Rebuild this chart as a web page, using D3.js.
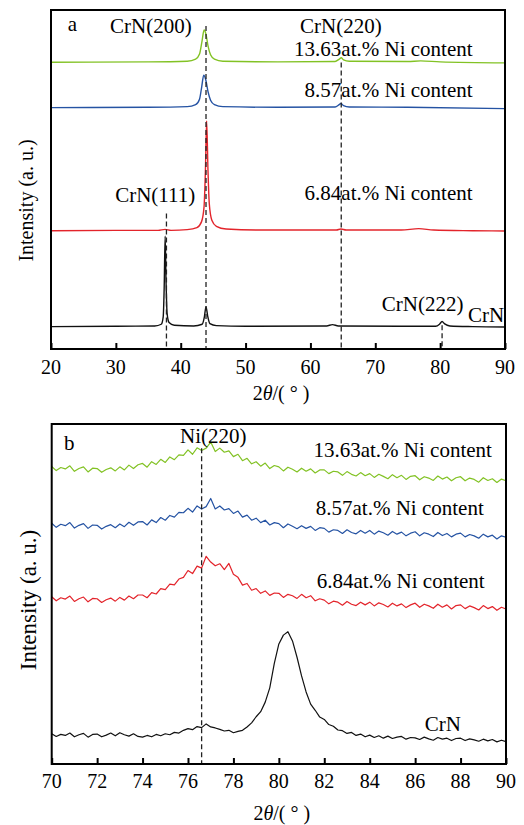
<!DOCTYPE html>
<html>
<head>
<meta charset="utf-8">
<script src="https://cdn.jsdelivr.net/npm/d3@7"></script>
<style>
  body { margin: 0; background: #fff; }
  svg { display: block; }
</style>
</head>
<body>
<div id="chart"></div>
<script>
const width = 524;
const height = 825;
const serifFont = '"Liberation Serif"';

// ---- panel a : 20-90°, traces as [2θ, intensity] points ----
const aTicks = [20, 30, 40, 50, 60, 70, 80, 90];
const aCrN = [[20, 6.6], [30, 6.7], [36, 6.8], [37.0, 7.3], [37.3, 9.5], [37.45, 18], [37.6, 33.3], [37.75, 19], [37.9, 10.5], [38.2, 7.8], [39, 7.0], [42, 6.8], [43.3, 7.3], [43.65, 9.5], [43.9, 12.5], [44.15, 9.8], [44.5, 7.5], [45.5, 6.9], [50, 6.7], [62.5, 6.8], [63.4, 7.2], [64.3, 6.8], [79.3, 6.7], [79.9, 7.3], [80.3, 8.1], [80.7, 7.4], [81.5, 6.8], [85, 6.6], [90, 6.5]];
const aNi684 = [[20, 34.9], [30, 35.0], [36.5, 35.0], [37.6, 35.3], [38.5, 35.0], [41, 35.2], [42.5, 35.8], [43.2, 37.5], [43.6, 42], [43.8, 52], [44.0, 67.3], [44.2, 53], [44.4, 43], [44.8, 38], [45.5, 36.2], [47, 35.4], [52, 35.1], [64, 35.1], [64.7, 35.4], [65.5, 35.1], [74, 35.1], [76.7, 35.5], [79, 35.1], [85, 34.9], [90, 34.8]];
const aNi857 = [[20, 71.2], [35, 71.3], [41, 71.5], [42.3, 72.1], [42.9, 73.7], [43.25, 77.5], [43.55, 80.8], [43.85, 79.5], [44.2, 76], [44.6, 73.4], [45.2, 72.1], [46.5, 71.5], [55, 71.3], [63.8, 71.4], [64.45, 72.1], [64.7, 72.4], [65.1, 71.8], [66, 71.4], [75, 71.3], [90, 70.9]];
const aNi1363 = [[20, 84.6], [35, 84.7], [41, 84.9], [42.3, 85.5], [42.9, 87], [43.3, 91], [43.6, 94.1], [43.9, 92.8], [44.2, 89.5], [44.6, 86.8], [45.2, 85.5], [46.5, 84.9], [55, 84.7], [63.8, 84.8], [64.5, 85.6], [64.75, 85.9], [65.1, 85.3], [66, 84.9], [75, 84.8], [77, 85.0], [80, 84.7], [90, 84.4]];
const aRefLines = [[37.8, 40], [43.9, 95.3], [64.75, 84.5], [80.3, 7.0]];

// ---- panel b : 70-90°, one reading every 0.2° ----
const bTicks = [70, 72, 74, 76, 78, 80, 82, 84, 86, 88, 90];
const bAngles = d3.range(101).map(i => 70 + i * 0.2);
const bCrN = [
  8.9, 8.1, 8.7, 8.4, 9.1, 8.0, 8.6, 9.0, 7.9, 8.7,
  8.8, 8.0, 8.5, 9.1, 8.3, 9.2, 8.6, 8.2, 8.9, 8.1,
  7.9, 8.4, 8.0, 8.7, 8.3, 8.9, 8.6, 9.3, 9.1, 9.9,
  10.4, 10.1, 11.0, 10.7, 11.8, 10.9, 10.6, 10.2, 9.7, 9.9,
  9.2, 9.6, 9.9, 10.9, 12.1, 13.9, 15.4, 18.2, 22.4, 29.6,
  35.3, 37.9, 38.9, 36.2, 31.4, 25.9, 21.2, 17.6, 15.8, 13.8,
  13.1, 11.6, 11.1, 10.0, 9.8, 9.0, 9.3, 8.4, 8.8, 8.0,
  8.5, 7.8, 8.3, 7.6, 8.2, 7.5, 7.9, 8.1, 7.3, 7.8,
  7.7, 7.2, 7.9, 7.4, 7.0, 7.8, 7.3, 7.6, 6.9, 7.5,
  7.6, 6.9, 7.4, 7.1, 6.7, 7.3, 6.8, 7.2, 6.5, 7.0,
  6.6];
const bNi684 = [
  49.2, 48.0, 48.9, 48.5, 49.4, 47.8, 48.6, 49.1, 47.7, 48.7,
  48.6, 47.5, 48.3, 48.8, 47.9, 49.0, 48.2, 49.4, 48.6, 49.7,
  49.7, 48.9, 50.4, 50.0, 51.6, 51.3, 52.9, 52.7, 54.4, 54.9,
  56.9, 56.0, 58.2, 57.6, 61.1, 59.4, 58.3, 58.9, 57.2, 59.0,
  55.8, 54.9, 52.6, 53.1, 51.1, 51.6, 50.2, 50.9, 49.6, 50.3,
  50.2, 49.0, 49.9, 49.5, 48.7, 49.9, 48.9, 49.5, 48.0, 48.6,
  48.2, 47.1, 47.9, 47.6, 46.7, 47.8, 47.0, 46.6, 47.6, 46.8,
  47.6, 46.5, 47.4, 46.9, 46.2, 47.3, 46.5, 47.1, 46.0, 46.8,
  47.3, 46.1, 47.0, 46.5, 45.8, 47.0, 46.1, 46.8, 45.6, 46.6,
  46.8, 45.7, 46.5, 46.0, 45.3, 46.6, 45.7, 46.3, 45.2, 46.1,
  45.6];
const bNi857 = [
  70.8, 69.6, 70.5, 70.1, 71.0, 69.4, 70.2, 70.7, 69.3, 70.3,
  70.2, 69.1, 69.9, 70.4, 69.5, 70.6, 69.8, 71.1, 70.2, 71.2,
  71.3, 70.3, 71.8, 71.0, 72.5, 71.7, 73.1, 72.6, 74.0, 73.9,
  75.2, 74.1, 75.9, 75.0, 75.7, 78.1, 75.0, 75.9, 74.7, 75.1,
  73.7, 74.4, 72.6, 73.2, 71.7, 72.3, 71.0, 71.7, 70.3, 71.0,
  70.7, 69.5, 70.6, 69.9, 69.2, 70.1, 69.3, 69.9, 68.7, 69.5,
  69.3, 68.2, 68.9, 68.7, 67.8, 68.9, 68.1, 67.7, 68.7, 67.9,
  68.7, 67.6, 68.5, 68.0, 67.3, 68.4, 67.6, 68.2, 67.1, 67.9,
  68.3, 67.1, 68.0, 67.6, 66.9, 68.1, 67.2, 67.8, 66.8, 67.6,
  67.9, 66.8, 67.5, 67.1, 66.4, 67.6, 66.8, 67.3, 66.2, 67.1,
  66.7];
const bNi1363 = [
  87.5, 86.3, 87.2, 86.8, 87.7, 86.1, 86.9, 87.4, 85.9, 87.0,
  86.9, 85.8, 86.6, 87.1, 86.2, 87.4, 86.5, 87.9, 86.9, 88.0,
  88.4, 87.3, 88.9, 88.1, 89.6, 88.7, 90.3, 89.5, 90.9, 90.8,
  92.4, 91.1, 93.0, 92.2, 92.9, 94.7, 91.9, 92.9, 91.7, 92.1,
  90.4, 91.1, 89.2, 89.9, 88.3, 88.9, 87.6, 88.5, 86.9, 87.8,
  87.4, 86.2, 87.3, 86.7, 85.9, 87.0, 86.1, 86.8, 85.6, 86.5,
  86.5, 85.4, 86.1, 85.9, 84.9, 86.0, 85.2, 84.7, 85.7, 84.8,
  85.4, 84.3, 85.2, 84.6, 83.9, 85.1, 84.2, 84.9, 83.7, 84.6,
  84.8, 83.6, 84.5, 84.1, 83.4, 84.7, 83.8, 84.4, 83.3, 84.2,
  84.5, 83.3, 84.1, 83.7, 82.9, 84.2, 83.4, 83.9, 82.8, 83.8,
  83.3];
const bRefLines = [[76.6, 92.9]];

const colors = { crn: "#111111", ni684: "#e3242b", ni857: "#2553a3", ni1363: "#82c224" };

const svg = d3.select("#chart").append("svg")
  .attr("width", width)
  .attr("height", height);

// put the font on every text element of the figure
function serifText(sel, size) {
  return sel.style("font-family", serifFont).style("font-size", size + "px");
}

function drawPanel(p) {
  const x = d3.scaleLinear().domain(p.xDomain).range([p.left, p.right]);
  const y = d3.scaleLinear().domain([0, 100]).range([p.bottom, p.top]);
  const g = svg.append("g");

  const line = d3.line().x(d => x(d[0])).y(d => y(d[1])).curve(p.curve);
  p.series.forEach(s => {
    g.append("path")
      .datum(s.points)
      .attr("fill", "none")
      .attr("stroke", s.color)
      .attr("stroke-width", p.lineWidth)
      .attr("stroke-linejoin", "round")
      .attr("d", line);
  });

  // dashed guide lines at the peak positions
  g.selectAll(".ref").data(p.refs).join("line")
    .attr("x1", d => x(d[0])).attr("x2", d => x(d[0]))
    .attr("y1", d => y(d[1])).attr("y2", y(0))
    .attr("stroke", "#222").attr("stroke-width", 1.3)
    .attr("stroke-dasharray", "5,3");

  // x axis: ticks pointing inward, labels drawn as own texts
  const axis = g.append("g")
    .attr("transform", `translate(0,${p.bottom})`)
    .call(d3.axisBottom(x).tickValues(p.ticks).tickSizeInner(-6).tickSizeOuter(0).tickFormat(""));
  axis.select(".domain").remove();
  axis.selectAll(".tick line").attr("stroke", "#000").attr("stroke-width", 2);

  serifText(g.selectAll(".ticklabel").data(p.ticks).join("text"), 20)
    .attr("x", d => x(d))
    .attr("y", p.bottom + p.tickBase)
    .attr("text-anchor", "middle")
    .text(d => d);

  // frame
  g.append("rect")
    .attr("x", p.left).attr("y", p.top)
    .attr("width", p.right - p.left).attr("height", p.bottom - p.top)
    .attr("fill", "none").attr("stroke", "#000").attr("stroke-width", 2);

  // annotations
  serifText(g.selectAll(".ann").data(p.labels).join("text"), 21)
    .attr("x", d => x(d.at))
    .attr("y", d => y(d.v))
    .attr("text-anchor", d => d.anchor || "start")
    .text(d => d.text);

  // axis titles
  serifText(g.append("text"), p.yTitleSize)
    .attr("transform", `translate(${p.yTitleX},${(p.top + p.bottom) / 2 + p.yTitleShift}) rotate(-90)`)
    .attr("text-anchor", "middle")
    .text("Intensity (a. u.)");

  const xt = serifText(g.append("text"), 20)
    .attr("x", (p.left + p.right) / 2 + 3)
    .attr("y", p.xTitleY)
    .attr("text-anchor", "middle");
  xt.append("tspan").text("2");
  xt.append("tspan").style("font-style", "italic").text("θ");
  xt.append("tspan").text("/( ° )");
}

drawPanel({
  xDomain: [20, 90], left: 51, right: 505, top: 10, bottom: 349,
  ticks: aTicks, tickBase: 25, curve: d3.curveMonotoneX, lineWidth: 1.4,
  series: [
    { points: aCrN, color: colors.crn },
    { points: aNi684, color: colors.ni684 },
    { points: aNi857, color: colors.ni857 },
    { points: aNi1363, color: colors.ni1363 }
  ],
  refs: aRefLines,
  labels: [
    { text: "a", at: 22.6, v: 93.9 },
    { text: "CrN(200)", at: 29.1, v: 93.1 },
    { text: "CrN(220)", at: 58.4, v: 93.1 },
    { text: "13.63at.% Ni content", at: 85.0, v: 86.4, anchor: "end" },
    { text: "8.57at.% Ni content", at: 85.0, v: 74.2, anchor: "end" },
    { text: "6.84at.% Ni content", at: 85.0, v: 44.0, anchor: "end" },
    { text: "CrN(111)", at: 29.9, v: 43.5 },
    { text: "CrN(222)", at: 71.0, v: 11.2 },
    { text: "CrN", at: 84.3, v: 8.0 }
  ],
  yTitleX: 33, yTitleShift: 21, yTitleSize: 20, xTitleY: 400
});

drawPanel({
  xDomain: [70, 90], left: 51.7, right: 506, top: 424, bottom: 764,
  ticks: bTicks, tickBase: 24, curve: d3.curveLinear, lineWidth: 1.2,
  series: [
    { points: bAngles.map((a, i) => [a, bCrN[i]]), color: colors.crn },
    { points: bAngles.map((a, i) => [a, bNi684[i]]), color: colors.ni684 },
    { points: bAngles.map((a, i) => [a, bNi857[i]]), color: colors.ni857 },
    { points: bAngles.map((a, i) => [a, bNi1363[i]]), color: colors.ni1363 }
  ],
  refs: bRefLines,
  labels: [
    { text: "b", at: 70.54, v: 92.4 },
    { text: "Ni(220)", at: 75.65, v: 94.5 },
    { text: "13.63at.% Ni content", at: 89.38, v: 90.2, anchor: "end" },
    { text: "8.57at.% Ni content", at: 89.02, v: 73.2, anchor: "end" },
    { text: "6.84at.% Ni content", at: 89.06, v: 51.7, anchor: "end" },
    { text: "CrN", at: 86.42, v: 9.7 }
  ],
  yTitleX: 36, yTitleShift: 6, yTitleSize: 23, xTitleY: 820
});
</script>
</body>
</html>
